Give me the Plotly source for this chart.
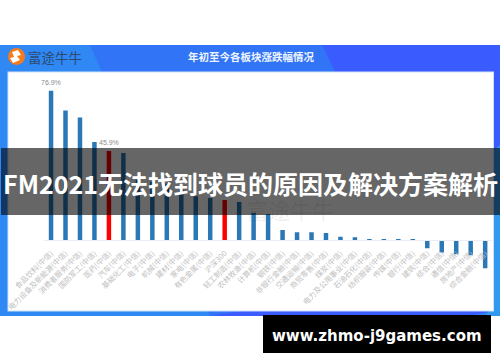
import plotly.graph_objects as go

W, H = 500, 362
categories = ["食品饮料(中信)", "电力设备及新能源(中信)", "消费者服务(中信)", "国防军工(中信)", "医药(中信)",
              "汽车(中信)", "基础化工(中信)", "电子(中信)", "机械(中信)", "建材(中信)", "家电(中信)",
              "有色金属(中信)", "沪深300", "轻工制造(中信)", "农林牧渔(中信)", "计算机(中信)", "钢铁(中信)",
              "非银行金融(中信)", "交通运输(中信)", "商贸零售(中信)", "煤炭(中信)", "电力及公用事业(中信)",
              "石油石化(中信)", "纺织服装(中信)", "传媒(中信)", "银行(中信)", "建筑(中信)", "综合(中信)",
              "通信(中信)", "房地产(中信)", "综合金融(中信)"]
values = [76.9, 66.8, 63.2, 50.5, 45.9, 44.8, 31, 30, 29, 26, 22.5, 21.6, 20.6, 19.6, 14, 13.4,
          5.2, 4, 4, 3.6, 1.7, 1.4, 0.3, 0.2, -0.3, -0.3, -4.3, -6.5, -7.4, -7.8, -14.6]
red_categories = ["医药(中信)", "沪深300"]
labelled = {"食品饮料(中信)": "76.9%", "医药(中信)": "45.9%"}
chart_title = "年初至今各板块涨跌幅情况"
brand = "富途牛牛"
headline = "FM2021无法找到球员的原因及解决方案解析"
footer = "www.zhmo-j9games.com"

def px(x): return x / W
def py(y): return 1 - y / H

def rect(x0, y0, x1, y1, color, layer="below"):
    return dict(type="rect", xref="paper", yref="paper", x0=px(x0), x1=px(x1), y0=py(y0), y1=py(y1),
                fillcolor=color, line=dict(width=0), layer=layer)

def poly(points, color, layer="below"):
    path = "M " + " L ".join(f"{px(a):.4f},{py(b):.4f}" for a, b in points) + " Z"
    return dict(type="path", xref="paper", yref="paper", path=path, fillcolor=color,
                line=dict(width=0), layer=layer)

shapes = [
    rect(0, 45, 500, 316, "#2f88f3"),
    poly([(90, 45), (322, 45), (335, 72), (335, 316), (210, 316), (102, 72)], "#3274f6"),
    poly([(322, 45), (500, 45), (500, 150), (494, 150), (494, 311), (470, 316), (210, 316), (240, 311), (335, 72)], "#3a5cff"),
    poly([(494, 150), (500, 145), (500, 316), (485, 316), (494, 305)], "#2f9af0"),
    rect(7.5, 71.5, 494, 311.5, "#cfe0fb"),
    rect(8.5, 72.5, 493, 310.5, "#ffffff"),
    dict(type="circle", xref="paper", yref="paper", x0=px(8), x1=px(25), y0=py(65), y1=py(48),
         fillcolor="#f57a1c", line=dict(width=0), layer="below"),
    poly([(12, 52), (18, 50), (21, 55), (17, 56), (20, 60), (13, 63), (10, 58), (14, 57)], "#ffffff"),
    rect(1, 148, 500, 215, "rgba(0,0,0,0.6)", layer="above"),
    rect(263, 315, 491, 353, "#000000", layer="above"),
]

colors = ["#ff0000" if c in red_categories else "#2a78b6" for c in categories]

fig = go.Figure(go.Bar(
    x=categories, y=values, marker=dict(color=colors, line=dict(width=0)), width=0.31,
    cliponaxis=False, hoverinfo="skip"))

cjk = "Noto Sans CJK SC"
annotations = [
    dict(text=f"<b>{chart_title}</b>", x=px(251), y=py(57), font=dict(size=10.5, color="#eef4ff", family=cjk)),
    dict(text=brand, x=px(54.5), y=py(56.5), font=dict(size=13.5, color="#2c4a72", family=cjk)),
    dict(text=brand, x=px(290), y=py(209), font=dict(size=22, color="rgba(0,0,0,0.07)", family=cjk)),
    dict(text=f"<b>{headline}</b>", x=px(250), y=py(182.5), font=dict(size=25, color="#ffffff", family=cjk)),
    dict(text=f"<b>{footer}</b>", x=px(376.5), y=py(336), font=dict(size=15, color="#ffffff", family="DejaVu Sans")),
]
for a in annotations:
    a.update(xref="paper", yref="paper", showarrow=False, xanchor="center", yanchor="middle")
for c, label in labelled.items():
    annotations.append(dict(text=label, x=c, y=values[categories.index(c)], xref="x", yref="y", yshift=8.5,
                            showarrow=False, xanchor="center", yanchor="middle",
                            font=dict(size=7, color="#8a8a8a", family="Liberation Sans")))

zero_px, scale = 240, 1.94
y_top, y_bot = 85, -20
fig.update_layout(
    width=W, height=H, margin=dict(l=0, r=0, t=0, b=0), autosize=False,
    paper_bgcolor="#ffffff", plot_bgcolor="rgba(0,0,0,0)", showlegend=False,
    shapes=shapes, annotations=annotations, bargap=0.69,
    xaxis=dict(domain=[px(43.8), px(492.4)], anchor="free", position=py(zero_px), type="category",
               categoryorder="array", categoryarray=categories, range=[-0.5, 30.5],
               tickangle=-45, tickfont=dict(size=7.5, color="#c0c0c0", family=cjk), ticks="",
               showgrid=False, zeroline=False, showline=True, linecolor="#e9edf5", linewidth=1,
               ticklabelstandoff=5, tickmode="array", tickvals=categories, ticktext=categories, automargin=False),
    yaxis=dict(domain=[py(zero_px - y_top * scale + (y_top - y_bot) * scale), py(zero_px - y_top * scale)],
               range=[y_bot, y_top], visible=False, fixedrange=True),
)
fig.write_html("out.html", config={"displayModeBar": False},
               post_script="document.body.style.margin='0';document.documentElement.style.overflow='hidden';")
